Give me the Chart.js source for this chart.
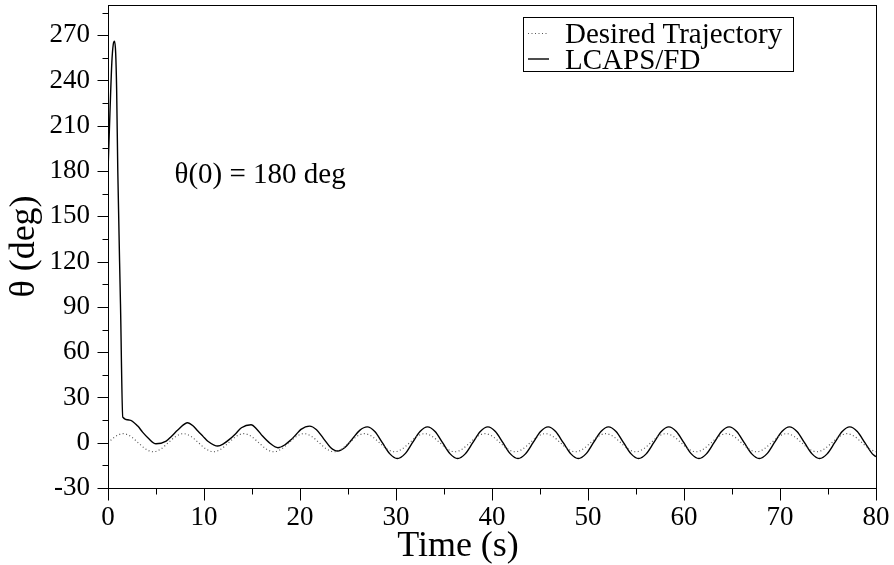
<!DOCTYPE html>
<html>
<head>
<meta charset="utf-8">
<script src="https://cdn.jsdelivr.net/npm/chart.js@4/dist/chart.umd.min.js"></script>
<style>
  html, body { margin: 0; padding: 0; background: #fff; }
</style>
</head>
<body>
<canvas id="myChart" width="894" height="565"></canvas>
<script>
var serif = "'Liberation Serif', 'Times New Roman', serif";

// Desired trajectory, sampled every pi/4 s
var tDesired = [
  0, 0.79, 1.57, 2.36, 3.14, 3.93, 4.71, 5.50,
  6.28, 7.07, 7.85, 8.64, 9.42, 10.21, 11.00, 11.78,
  12.57, 13.35, 14.14, 14.92, 15.71, 16.49, 17.28, 18.06,
  18.85, 19.63, 20.42, 21.21, 21.99, 22.78, 23.56, 24.35,
  25.13, 25.92, 26.70, 27.49, 28.27, 29.06, 29.85, 30.63,
  31.42, 32.20, 32.99, 33.77, 34.56, 35.34, 36.13, 36.91,
  37.70, 38.48, 39.27, 40.06, 40.84, 41.63, 42.41, 43.20,
  43.98, 44.77, 45.55, 46.34, 47.12, 47.91, 48.69, 49.48,
  50.27, 51.05, 51.84, 52.62, 53.41, 54.19, 54.98, 55.76,
  56.55, 57.33, 58.12, 58.90, 59.69, 60.48, 61.26, 62.05,
  62.83, 63.62, 64.40, 65.19, 65.97, 66.76, 67.54, 68.33,
  69.12, 69.90, 70.69, 71.47, 72.26, 73.04, 73.83, 74.61,
  75.40, 76.18, 76.97, 77.75, 78.54, 79.33, 80
];
var thetaDesired = [
  0, 4.2, 6, 4.2, 0, -4.2, -6, -4.2,
  0, 4.2, 6, 4.2, 0, -4.2, -6, -4.2,
  0, 4.2, 6, 4.2, 0, -4.2, -6, -4.2,
  0, 4.2, 6, 4.2, 0, -4.2, -6, -4.2,
  0, 4.2, 6, 4.2, 0, -4.2, -6, -4.2,
  0, 4.2, 6, 4.2, 0, -4.2, -6, -4.2,
  0, 4.2, 6, 4.2, 0, -4.2, -6, -4.2,
  0, 4.2, 6, 4.2, 0, -4.2, -6, -4.2,
  0, 4.2, 6, 4.2, 0, -4.2, -6, -4.2,
  0, 4.2, 6, 4.2, 0, -4.2, -6, -4.2,
  0, 4.2, 6, 4.2, 0, -4.2, -6, -4.2,
  0, 4.2, 6, 4.2, 0, -4.2, -6, -4.2,
  0, 4.2, 6, 4.2, 0, -4.2, -6.0
];

// LCAPS/FD response: swing-up transient, then tracking
var tLcaps = [
  0, 0.2, 0.4, 0.55, 0.68, 0.8, 0.9, 1.02, 1.3, 1.54,
  2.24, 3.1, 3.6, 4.15, 5.0, 6.06, 6.65, 7.27, 8.3, 8.85,
  9.36, 9.9, 10.4, 11.44, 12.05, 12.65, 13.3, 13.9, 14.9, 15.5,
  16.1, 16.9, 17.7, 18.4, 19.1, 19.6, 20.1, 21.0, 21.72, 22.45,
  23.18, 23.9, 24.68, 25.45, 26.22,
  27.00, 27.79, 28.57, 29.36, 30.14, 30.93, 31.71, 32.50,
  33.28, 34.07, 34.85, 35.64, 36.42, 37.21, 38.00, 38.78,
  39.57, 40.35, 41.14, 41.92, 42.71, 43.49, 44.28, 45.06,
  45.85, 46.63, 47.42, 48.21, 48.99, 49.78, 50.56, 51.35,
  52.13, 52.92, 53.70, 54.49, 55.27, 56.06, 56.85, 57.63,
  58.42, 59.20, 59.99, 60.77, 61.56, 62.34, 63.13, 63.91,
  64.70, 65.49, 66.27, 67.06, 67.84, 68.63, 69.41, 70.20,
  70.98, 71.77, 72.55, 73.34, 74.12, 74.91, 75.70, 76.48,
  77.27, 78.05, 78.84, 79.62, 80
];
var thetaLcaps = [
  180, 218, 252, 264, 266, 258, 234, 180, 92, 17,
  15, 11, 7, 3.3, -0.7, 1.1, 4.5, 8.4, 13.2, 11.2,
  7.7, 4.2, 1.0, -2.2, -0.6, 2.2, 6, 9.9, 11.9, 9,
  4.4, -0.5, -3.3, -1.5, 2.2, 5.5, 8.8, 11.0, 8.6, 2.75,
  -3.1, -5.5, -3.2, 2.5, 8.2,
  10.5, 7.4, 0, -7.4, -10.5, -7.4, 0, 7.4,
  10.5, 7.4, 0, -7.4, -10.5, -7.4, 0, 7.4,
  10.5, 7.4, 0, -7.4, -10.5, -7.4, 0, 7.4,
  10.5, 7.4, 0, -7.4, -10.5, -7.4, 0, 7.4,
  10.5, 7.4, 0, -7.4, -10.5, -7.4, 0, 7.4,
  10.5, 7.4, 0, -7.4, -10.5, -7.4, 0, 7.4,
  10.5, 7.4, 0, -7.4, -10.5, -7.4, 0, 7.4,
  10.5, 7.4, 0, -7.4, -10.5, -7.4, 0, 7.4,
  10.5, 7.4, 0, -7.4, -9.2
];

var seriesLabels = ['Desired Trajectory', 'LCAPS/FD'];
var xTitle = 'Time (s)';
var yTitle = '\u03b8 (deg)';
var noteText = '\u03b8(0) = 180 deg';
var noteAt = { x: 6.93, y: 172 };

function toPoints(ts, vs) {
  return ts.map(function (t, i) { return { x: t, y: vs[i] }; });
}

// frame, outward tick marks (major + minor), legend box, x title and the note
var decorPlugin = {
  id: 'decor',
  afterDraw: function (chart) {
    var ctx = chart.ctx;
    var area = chart.chartArea;
    var xs = chart.scales.x;
    var ys = chart.scales.y;
    var l = Math.round(area.left) + 0.5, r = Math.round(area.right) + 0.5;
    var tp = Math.round(area.top) + 0.5, b = Math.round(area.bottom) + 0.5;

    ctx.save();
    ctx.strokeStyle = '#000';
    ctx.lineWidth = 1;
    ctx.setLineDash([]);
    ctx.strokeRect(l, tp, r - l, b - tp);

    ctx.beginPath();
    for (var v = -30; v <= 285; v += 15) {
      var py = Math.round(ys.getPixelForValue(v)) + 0.5;
      ctx.moveTo(l, py);
      ctx.lineTo(l - (v % 30 === 0 ? 11 : 6), py);
    }
    for (var t = 0; t <= 80; t += 5) {
      var px = Math.round(xs.getPixelForValue(t)) + 0.5;
      ctx.moveTo(px, b);
      ctx.lineTo(px, b + (t % 10 === 0 ? 12 : 6));
    }
    ctx.stroke();

    // legend
    var lx = 523.5, ly = 17.5, lw = 270, lh = 54;
    ctx.fillStyle = '#fff';
    ctx.fillRect(lx, ly, lw, lh);
    ctx.strokeRect(lx, ly, lw, lh);
    ctx.font = '29px ' + serif;
    ctx.fillStyle = '#000';
    ctx.textAlign = 'left';
    ctx.textBaseline = 'alphabetic';
    var rows = [43, 68.5];
    chart.data.datasets.forEach(function (ds, i) {
      ctx.save();
      ctx.strokeStyle = ds.borderColor;
      ctx.lineWidth = ds.borderWidth;
      ctx.setLineDash(ds.borderDash || []);
      ctx.beginPath();
      ctx.moveTo(528, rows[i] - 9.5);
      ctx.lineTo(549, rows[i] - 9.5);
      ctx.stroke();
      ctx.restore();
      ctx.fillText(ds.label, 565, rows[i]);
    });

    // initial-condition note
    ctx.fillText(noteText, xs.getPixelForValue(noteAt.x), ys.getPixelForValue(noteAt.y));

    // x axis title sits a little left of the axis centre
    ctx.font = '36px ' + serif;
    ctx.textAlign = 'center';
    ctx.fillText(xTitle, 458, 556);
    ctx.restore();
  }
};

var config = {
  type: 'line',
  data: {
    datasets: [{
      label: seriesLabels[0],
      data: toPoints(tDesired, thetaDesired),
      borderColor: '#555',
      borderWidth: 1.2,
      borderDash: [1, 2.5],
      pointRadius: 0,
      cubicInterpolationMode: 'monotone',
      fill: false
    }, {
      label: seriesLabels[1],
      data: toPoints(tLcaps, thetaLcaps),
      borderColor: '#000',
      borderWidth: 1.4,
      pointRadius: 0,
      cubicInterpolationMode: 'monotone',
      fill: false
    }]
  },
  options: {
    responsive: false,
    animation: false,
    devicePixelRatio: 1,
    layout: { padding: { top: 5, right: 18, left: 0, bottom: 0 } },
    plugins: {
      legend: { display: false },
      tooltip: { enabled: false }
    },
    scales: {
      x: {
        type: 'linear',
        min: 0,
        max: 80,
        border: { display: false },
        grid: { display: false, drawTicks: false },
        ticks: {
          stepSize: 10,
          autoSkip: false,
          maxRotation: 0,
          padding: 14,
          color: '#000',
          font: { family: serif, size: 27 }
        },
        afterFit: function (scale) {
          scale.height = 77;
          scale.paddingLeft = 0;
          scale.paddingRight = 0;
        }
      },
      y: {
        type: 'linear',
        min: -30,
        max: 290,
        border: { display: false },
        grid: { display: false, drawTicks: false },
        ticks: {
          stepSize: 30,
          includeBounds: false,
          padding: 18,
          color: '#000',
          font: { family: serif, size: 27 }
        },
        title: {
          display: true,
          text: yTitle,
          color: '#000',
          font: { family: serif, size: 36 },
          padding: { top: 3, bottom: 0 }
        },
        afterFit: function (scale) {
          scale.width = 108;
          scale.paddingTop = 0;
          scale.paddingBottom = 0;
        }
      }
    }
  },
  plugins: [decorPlugin]
};

var myChart = new Chart(document.getElementById('myChart'), config);
</script>
</body>
</html>
